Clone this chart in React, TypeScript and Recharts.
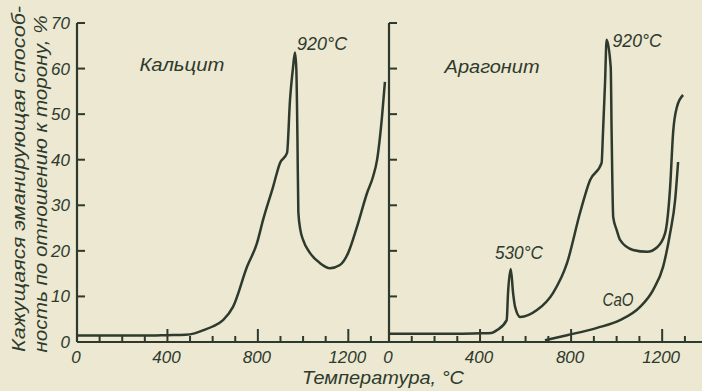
import { Line, LineChart, ReferenceDot, XAxis, YAxis } from "recharts";

const INK = "#2e3a2d";
const PAPER = "#ece8d1";
const FONT = "'Liberation Sans', 'DejaVu Sans', sans-serif";

// axis ticks (°C and %)
const xTicks = [0, 100, 200, 300, 400, 500, 600, 700, 800, 900, 1000, 1100, 1200, 1300];
const yTicks = [0, 10, 20, 30, 40, 50, 60, 70];

// Кальцит
const calciteTemp = [0, 100, 200, 300, 400, 480, 520, 560, 600, 646, 690, 752, 796, 823, 867, 898, 929, 942, 955, 964, 970, 975, 979, 988, 1000, 1031, 1075, 1119, 1163, 1199, 1238, 1283, 1309, 1327, 1349, 1362];
const calciteValue = [1.4, 1.4, 1.4, 1.4, 1.5, 1.6, 1.9, 2.6, 3.4, 4.8, 7.7, 16.5, 21.7, 26.8, 34, 39.3, 41.5, 53, 60, 63.5, 60, 45, 28.5, 24.6, 22.4, 19.5, 17.3, 16.2, 16.9, 19.5, 25.2, 32.7, 36.2, 39.9, 49.4, 57.1];

// Арагонит
const aragoniteTemp = [0, 100, 200, 300, 400, 450, 474, 517, 523, 535, 545, 554, 576, 650, 721, 782, 839, 883, 934, 940, 949, 956, 974, 978, 985, 1000, 1015, 1072, 1134, 1178, 1213, 1235, 1248, 1265, 1292];
const aragoniteValue = [1.8, 1.8, 1.8, 1.8, 1.9, 2.0, 2.6, 4.8, 10.8, 16, 10.8, 7.7, 5.5, 7.0, 10.8, 17.3, 28.3, 35.5, 39.3, 45.9, 56.8, 66.3, 60.3, 45.9, 27.4, 24.6, 22.4, 20.2, 19.8, 20.8, 23.9, 34, 45.9, 51.6, 54.2];

// CaO
const caoTemp = [685, 782, 914, 1015, 1103, 1160, 1204, 1235, 1257, 1270];
const caoValue = [0.4, 1.5, 3.1, 4.8, 7.7, 11.4, 16.5, 23.9, 31.2, 39.5];

const calciteData = calciteTemp.map((t, i) => ({ t, v: calciteValue[i] }));
const aragoniteData = aragoniteTemp.map((t, i) => ({ t, v: aragoniteValue[i] }));
const caoData = caoTemp.map((t, i) => ({ t, v: caoValue[i] }));

const textStyle = { fill: INK, fontFamily: FONT, fontStyle: "italic" as const };

function XTick(props: any) {
  const x = Number(props.x);
  const y = Number(props.y);
  const v = Number(props.payload.value);
  const major = v % 400 === 0;
  return (
    <g>
      {v > 0 && <path d={`M${x},${y}V${y - (major ? 13 : 6)}`} stroke={INK} strokeWidth={2} fill="none" />}
      {major && (
        <text x={x - 1} y={y + 21} textAnchor="middle" fontSize={17} {...textStyle}>
          {v}
        </text>
      )}
    </g>
  );
}

function YTick(props: any) {
  const x = Number(props.x);
  const y = Number(props.y);
  const v = Number(props.payload.value);
  return (
    <g>
      {v > 0 && <path d={`M${x},${y}H${x + 8}`} stroke={INK} strokeWidth={2} fill="none" />}
      {props.labels && (
        <text x={x - 7} y={y + 6} textAnchor="end" fontSize={17} {...textStyle}>
          {v}
        </text>
      )}
    </g>
  );
}

const note = (text: string, width: number, size = 18) => (props: any) => {
  const vb = props.viewBox || {};
  const cx = Number(vb.x ?? 0) + Number(vb.width ?? 0) / 2;
  const cy = Number(vb.y ?? 0) + Number(vb.height ?? 0) / 2;
  return (
    <text x={cx} y={cy + 6} textAnchor="middle" textLength={width} lengthAdjust="spacingAndGlyphs" fontSize={size} {...textStyle}>
      {text}
    </text>
  );
};

const axisLine = { stroke: INK, strokeWidth: 2.2 };

export default function App() {
  return (
    <div style={{ position: "absolute", left: 0, top: 0, width: 702, height: 391, background: PAPER, overflow: "hidden" }}>
      <div style={{ position: "absolute", left: 0, top: 0 }}>
        <LineChart width={392} height={391} margin={{ top: 23, right: 3, bottom: 48, left: 76 }}>
          <XAxis type="number" dataKey="t" domain={[0, 1380]} ticks={xTicks} interval={0} height={1} tickSize={0} tickMargin={0} tickLine={false} axisLine={axisLine} tick={(p: any) => <XTick {...p} />} />
          <YAxis type="number" domain={[0, 70]} ticks={yTicks} interval={0} width={1} tickSize={0} tickMargin={0} tickLine={false} axisLine={axisLine} tick={(p: any) => <YTick {...p} labels />} />
          <Line data={calciteData} dataKey="v" type="monotone" stroke={INK} strokeWidth={2.5} dot={false} isAnimationActive={false} />
          <ReferenceDot x={464} y={60.8} r={0} fill="none" stroke="none" ifOverflow="visible" label={note("Кальцит", 85)} />
          <ReferenceDot x={1084} y={65.4} r={0} fill="none" stroke="none" ifOverflow="visible" label={note("920°C", 50)} />
        </LineChart>
      </div>
      <div style={{ position: "absolute", left: 300, top: 0 }}>
        <LineChart width={402} height={391} margin={{ top: 23, right: 0, bottom: 48, left: 88 }}>
          <XAxis type="number" dataKey="t" domain={[0, 1375]} ticks={xTicks} interval={0} height={1} tickSize={0} tickMargin={0} tickLine={false} axisLine={axisLine} tick={(p: any) => <XTick {...p} />} />
          <YAxis type="number" domain={[0, 70]} ticks={yTicks} interval={0} width={1} tickSize={0} tickMargin={0} tickLine={false} axisLine={axisLine} tick={(p: any) => <YTick {...p} labels={false} />} />
          <Line data={aragoniteData} dataKey="v" type="monotone" stroke={INK} strokeWidth={2.5} dot={false} isAnimationActive={false} />
          <Line data={caoData} dataKey="v" type="monotone" stroke={INK} strokeWidth={2.5} dot={false} isAnimationActive={false} />
          <ReferenceDot x={453} y={60.3} r={0} fill="none" stroke="none" ifOverflow="visible" label={note("Арагонит", 95)} />
          <ReferenceDot x={1090} y={66} r={0} fill="none" stroke="none" ifOverflow="visible" label={note("920°C", 49)} />
          <ReferenceDot x={571} y={19.5} r={0} fill="none" stroke="none" ifOverflow="visible" label={note("530°C", 48)} />
          <ReferenceDot x={1006} y={9.2} r={0} fill="none" stroke="none" ifOverflow="visible" label={note("CaO", 31, 19)} />
        </LineChart>
      </div>
      <svg width={702} height={391} style={{ position: "absolute", left: 0, top: 0, pointerEvents: "none" }}>
        <text transform="translate(25,179) rotate(-90)" textAnchor="middle" textLength={346} lengthAdjust="spacingAndGlyphs" fontSize={18} {...textStyle}>
          Кажущаяся эманирующая способ-
        </text>
        <text transform="translate(47,184) rotate(-90)" textAnchor="middle" textLength={337} lengthAdjust="spacingAndGlyphs" fontSize={18} {...textStyle}>
          ность по отношению к торону, %
        </text>
        <text x={302} y={384} textLength={162} lengthAdjust="spacingAndGlyphs" fontSize={19} {...textStyle}>
          Температура, °C
        </text>
      </svg>
    </div>
  );
}
